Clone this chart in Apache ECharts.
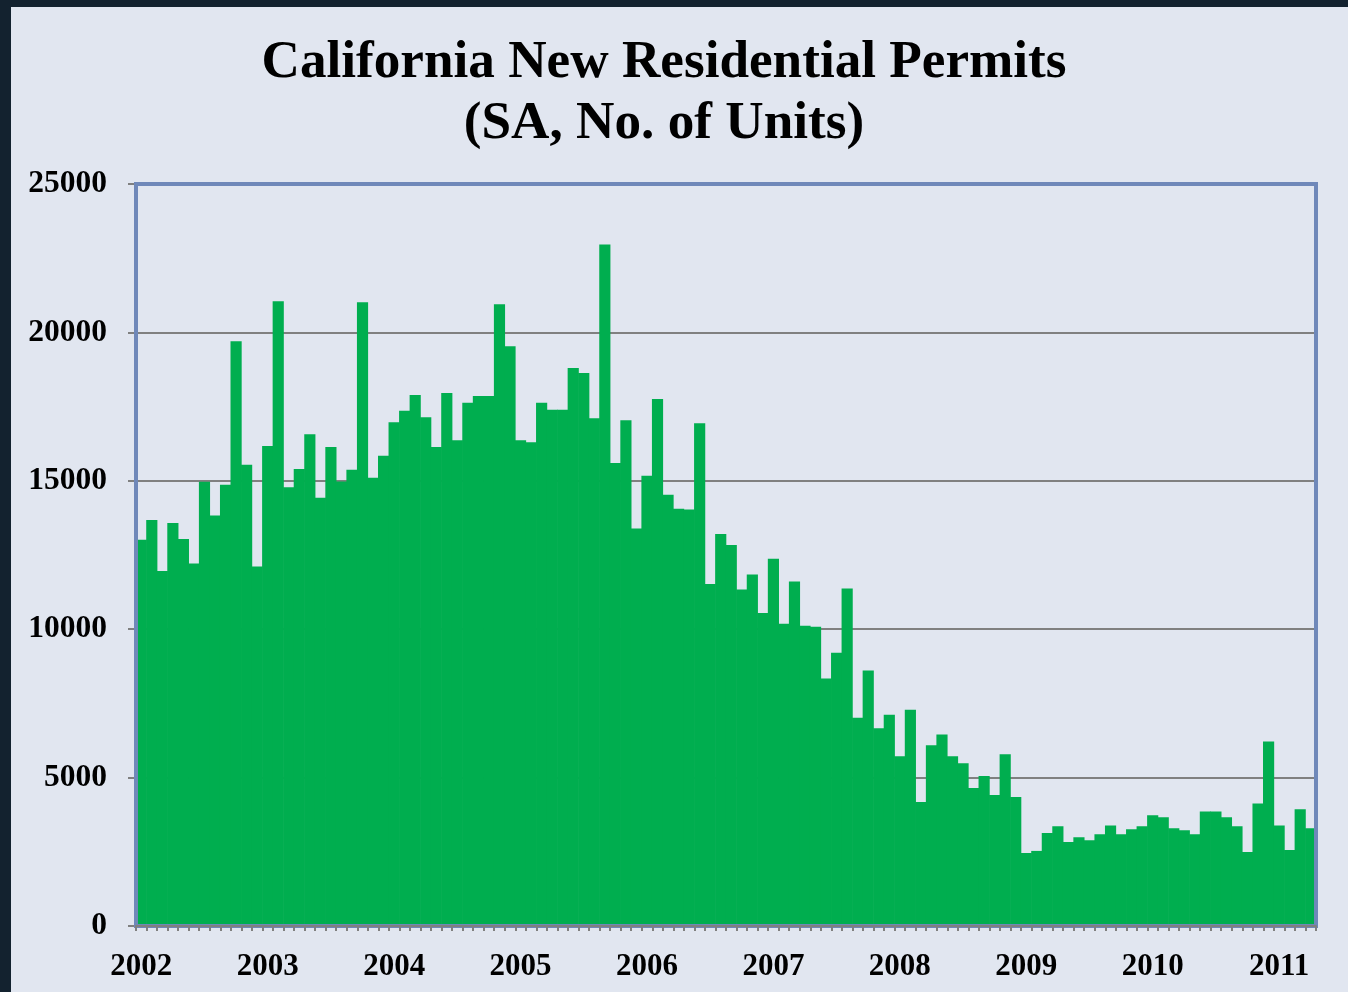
<!DOCTYPE html>
<html>
<head>
<meta charset="utf-8">
<script src="https://cdn.jsdelivr.net/npm/echarts@6/dist/echarts.min.js"></script>
<style>
html,body{margin:0;padding:0;background:#E1E6F0;}
#chart{width:1348px;height:992px;}
</style>
</head>
<body>
<div id="chart"></div>
<script>
// Monthly permits, Jan 2002 - Apr 2011 (SA, number of units)
const years = ['2002','2003','2004','2005','2006','2007','2008','2009','2010','2011'];
const permits2002 = [13010,13680,11960,13580,13040,12210,14970,13830,14870,19700,15540,12110];
const permits2003 = [16170,21050,14780,15400,16570,14430,16140,14980,15370,21020,15100,15840];
const permits2004 = [16970,17360,17890,17140,16140,17960,16370,17630,17860,17860,20950,19530];
const permits2005 = [16370,16300,17630,17390,17390,18800,18630,17110,22960,15600,17040,13390];
const permits2006 = [15170,17760,14530,14060,14030,16940,11520,13210,12840,11340,11840,10550];
const permits2007 = [12370,10180,11610,10120,10080,8340,9210,11370,7020,8610,6660,7120];
const permits2008 = [5720,7290,4180,6090,6450,5720,5480,4650,5050,4410,5790,4350];
const permits2009 = [2460,2530,3130,3360,2830,2990,2890,3090,3390,3090,3260,3360];
const permits2010 = [3730,3660,3290,3230,3090,3860,3860,3660,3360,2490,4130,6220];
const permits2011 = [3390,2560,3930,3290];
const yTicks = [0,5000,10000,15000,20000,25000];

const seriesByYear = [permits2002,permits2003,permits2004,permits2005,permits2006,permits2007,permits2008,permits2009,permits2010,permits2011];
const categories = [];
const values = [];
seriesByYear.forEach((arr, yi) => {
  arr.forEach((v, mi) => {
    categories.push(years[yi] + '-' + String(mi + 1).padStart(2, '0'));
    values.push(v);
  });
});

const chart = echarts.init(document.getElementById('chart'), null, {renderer: 'canvas'});
const serif = '"Liberation Serif", "Times New Roman", serif';
chart.setOption({
  backgroundColor: '#E1E6F0',
  animation: false,
  title: {
    text: 'California New Residential Permits\n(SA, No. of Units)',
    left: 659,
    top: 28,
    textAlign: 'center',
    textStyle: {
      fontFamily: serif,
      fontWeight: 'bold',
      fontSize: 53.2,
      lineHeight: 61,
      color: '#000'
    }
  },
  graphic: [
    {type: 'rect', left: 0, top: 0, shape: {width: 11, height: 992}, style: {fill: '#13222F'}},
    {type: 'rect', left: 0, top: 0, shape: {width: 1348, height: 7}, style: {fill: '#13222F'}}
  ],
  grid: {
    left: 136,
    right: 32,
    top: 184,
    bottom: 66,
    show: true,
    borderColor: '#6F88B9',
    borderWidth: 4,
    backgroundColor: 'transparent',
    z: 5
  },
  xAxis: {
    type: 'category',
    data: categories,
    boundaryGap: true,
    z: 6,
    axisLine: {show: true, lineStyle: {color: '#808080', width: 2}},
    axisTick: {show: true, interval: 0, length: 5, lineStyle: {color: '#808080', width: 2}},
    axisLabel: {
      interval: function (index) { return index % 12 === 0; },
      formatter: function (val) { return val.slice(0, 4); },
      fontFamily: serif,
      fontWeight: 'bold',
      fontSize: 31,
      color: '#000',
      margin: 25
    },
    splitLine: {show: false}
  },
  yAxis: {
    type: 'value',
    min: yTicks[0],
    max: yTicks[yTicks.length - 1],
    interval: 5000,
    axisLine: {show: false},
    axisTick: {show: true, length: 8, lineStyle: {color: '#808080', width: 2}},
    axisLabel: {
      formatter: function (v) { return String(v); },
      fontFamily: serif,
      fontWeight: 'bold',
      fontSize: 31.5,
      color: '#000',
      margin: 29
    },
    splitLine: {show: true, lineStyle: {color: '#808080', width: 2}}
  },
  series: [{
    type: 'bar',
    data: values,
    barWidth: '106%',
    itemStyle: {color: '#00AE4F'},
    z: 2
  }]
});
</script>
</body>
</html>
